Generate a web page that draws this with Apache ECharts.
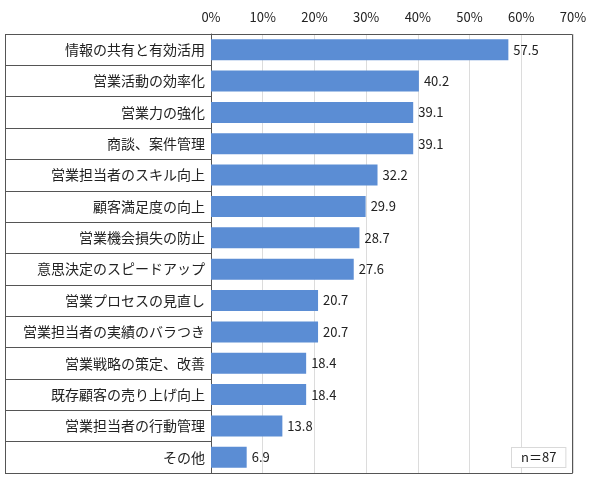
<!DOCTYPE html>
<html>
	<head>
		<meta charset="UTF-8">
		<script type="text/javascript" src="https://cdn.jsdelivr.net/npm/echarts@6/dist/echarts.min.js"></script>
		<title></title>
		<style>
			html, body { margin: 0; padding: 0; background: #fff; }
		</style>
	</head>
	<body>
		<div id="graph" style="width: 590px; height: 483px;"></div>
	</body>
	<script>
		var categories = [
			'情報の共有と有効活用',
			'営業活動の効率化',
			'営業力の強化',
			'商談、案件管理',
			'営業担当者のスキル向上',
			'顧客満足度の向上',
			'営業機会損失の防止',
			'意思決定のスピードアップ',
			'営業プロセスの見直し',
			'営業担当者の実績のバラつき',
			'営業戦略の策定、改善',
			'既存顧客の売り上げ向上',
			'営業担当者の行動管理',
			'その他'
		];
		var values = [57.5, 40.2, 39.1, 39.1, 32.2, 29.9, 28.7, 27.6, 20.7, 20.7, 18.4, 18.4, 13.8, 6.9];
		var sampleNote = 'n＝87';

		var fontFamily = '"Noto Sans CJK JP", "Noto Sans", sans-serif';
		var myChart = echarts.init(document.getElementById('graph'));
		var option = {
			textStyle: { fontFamily: fontFamily },
			animation: false,
			grid: { left: 211, right: 17, top: 34, bottom: 10 },
			xAxis: {
				type: 'value',
				position: 'top',
				min: 0,
				max: 70,
				interval: 10,
				axisLine: { show: false },
				axisTick: { show: false },
				axisLabel: {
					formatter: '{value}%',
					color: '#222',
					fontSize: 13,
					margin: 10,
					fontFamily: fontFamily
				},
				splitLine: { lineStyle: { color: '#dcdcdc', width: 1 } }
			},
			yAxis: {
				type: 'category',
				data: categories,
				inverse: true,
				axisLine: { show: true, lineStyle: { color: '#555', width: 1 } },
				axisTick: { show: true, length: 206, lineStyle: { color: '#555', width: 1 } },
				axisLabel: {
					color: '#222',
					fontSize: 14,
					margin: 6,
					fontFamily: fontFamily
				}
			},
			series: [{
				type: 'bar',
				data: values,
				barCategoryGap: '33%',
				itemStyle: { color: '#5B8DD4' },
				label: {
					show: true,
					position: 'right',
					distance: 5,
					color: '#222',
					fontSize: 13,
					fontFamily: fontFamily,
					formatter: function (p) { return p.value.toFixed(1); }
				}
			}],
			graphic: [
				{
					type: 'rect',
					shape: { x: 5.5, y: 34.5, width: 567, height: 439 },
					style: { fill: 'none', stroke: '#555', lineWidth: 1 },
					z: 10
				},
				{
					type: 'text',
					left: 511,
					top: 447,
					style: {
						text: sampleNote,
						fill: '#222',
						font: '13px ' + fontFamily,
						backgroundColor: '#fff',
						borderColor: '#d9d9d9',
						borderWidth: 1,
						padding: [3, 9, 3, 9]
					},
					z: 11
				}
			]
		};
		myChart.setOption(option);
	</script>
</html>
